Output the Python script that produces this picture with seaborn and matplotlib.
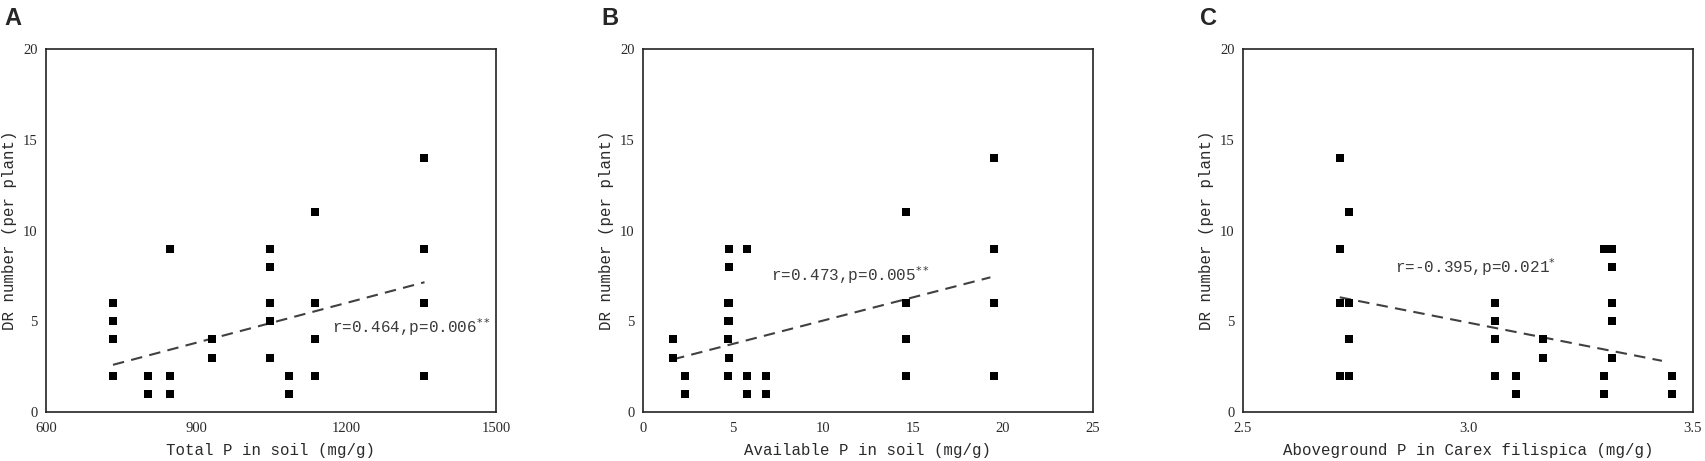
import numpy as np
import pandas as pd
import matplotlib
matplotlib.use("Agg")
import matplotlib.pyplot as plt
import seaborn as sns

# DR number per plant (same samples in every panel)
dr_number = [6, 5, 4, 2, 2, 1, 9, 2, 1, 4, 3, 9, 8, 6, 5, 3, 2, 1,
             11, 6, 4, 2, 14, 9, 6, 2]

total_p = [734, 734, 734, 734, 803, 803, 847, 847, 847, 932, 932,
           1048, 1048, 1048, 1048, 1048, 1086, 1086,
           1139, 1139, 1139, 1139, 1357, 1357, 1357, 1357]
available_p = [4.70, 4.70, 4.70, 4.70, 2.36, 2.36, 5.79, 5.79, 5.79, 1.67, 1.67,
               4.80, 4.80, 4.80, 4.80, 4.80, 6.85, 6.85,
               14.6, 14.6, 14.6, 14.6, 19.48, 19.48, 19.48, 19.48]
aboveground_p = [3.061, 3.061, 3.061, 3.061, 3.107, 3.107, 3.302, 3.302, 3.302,
                 3.166, 3.166, 3.319, 3.319, 3.319, 3.319, 3.319, 3.453, 3.453,
                 2.735, 2.735, 2.735, 2.735, 2.715, 2.715, 2.715, 2.715]

# fitted lines (end points)
fit_a_x, fit_a_y = [734, 1357], [2.6, 7.15]
fit_b_x, fit_b_y = [1.67, 19.3], [2.9, 7.42]
fit_c_x, fit_c_y = [2.715, 3.431], [6.32, 2.82]

stats_text = ["r=0.464,p=0.006$^{**}$", "r=0.473,p=0.005$^{**}$", "r=-0.395,p=0.021$^{*}$"]
stats_pos = [(1172, 4.68), (7.1, 7.55), (2.838, 8.0)]

x_labels = ["Total P in soil (mg/g)", "Available P in soil (mg/g)",
            "Aboveground P in Carex filispica (mg/g)"]
x_limits = [(600, 1500), (0, 25), (2.5, 3.5)]
x_ticks = [[600, 900, 1200, 1500], [0, 5, 10, 15, 20, 25], [2.5, 3.0, 3.5]]
x_ticklabels = [["600", "900", "1200", "1500"], ["0", "5", "10", "15", "20", "25"],
                ["2.5", "3.0", "3.5"]]
y_ticks = [0, 5, 10, 15, 20]
panel_letters = ["A", "B", "C"]

sns.set_style("white")
plt.rcParams["font.family"] = ["Liberation Mono", "DejaVu Sans"]

W, H = 1706, 461
fig = plt.figure(figsize=(W / 100, H / 100), dpi=100)

lefts = [46, 643, 1243]
letter_x = [4, 601, 1200]
ax_w, ax_top, ax_bot = 450, 49, 412
text_col = "#2a2a2a"

xs = [total_p, available_p, aboveground_p]
fits = [(fit_a_x, fit_a_y), (fit_b_x, fit_b_y), (fit_c_x, fit_c_y)]

for i in range(3):
    ax = fig.add_axes([lefts[i] / W, (H - ax_bot) / H, ax_w / W, (ax_bot - ax_top) / H])
    df = pd.DataFrame({"x": xs[i], "y": dr_number})
    ax.plot(fits[i][0], fits[i][1], color="#404040", lw=1.5, dashes=(5.5, 3.5), zorder=2)
    sns.scatterplot(data=df, x="x", y="y", marker="s", color="black", s=30,
                    linewidth=0, ax=ax, zorder=3)

    ax.set_xlim(*x_limits[i])
    ax.set_ylim(0, 20)
    ax.set_xticks(x_ticks[i])
    ax.set_xticklabels(x_ticklabels[i])
    ax.set_yticks(y_ticks)
    ax.tick_params(axis="both", direction="in", length=4.5, width=1.0, color="#222222",
                   labelsize=10.5, labelcolor=text_col)
    ax.tick_params(axis="x", pad=7)
    ax.tick_params(axis="y", pad=6)
    for lab in ax.get_xticklabels() + ax.get_yticklabels():
        lab.set_family("Liberation Serif")
    for sp in ax.spines.values():
        sp.set_linewidth(1.2)
        sp.set_color("#222222")

    ax.set_xlabel(x_labels[i], fontsize=11.3, color=text_col)
    ax.set_ylabel("DR number (per plant)", fontsize=11.3, color=text_col)
    ax.xaxis.set_label_coords(0.5, -0.085)
    ax.yaxis.set_label_coords(-0.064, 0.5)

    ax.text(stats_pos[i][0], stats_pos[i][1], stats_text[i], fontsize=11.5,
            color="#3a3a3a", ha="left", va="center")

    fig.text(letter_x[i] / W, 1 - 7 / H, panel_letters[i], fontsize=17,
             fontweight="bold", family="Liberation Sans", ha="left", va="top")

fig.savefig("out.png", dpi=100)
